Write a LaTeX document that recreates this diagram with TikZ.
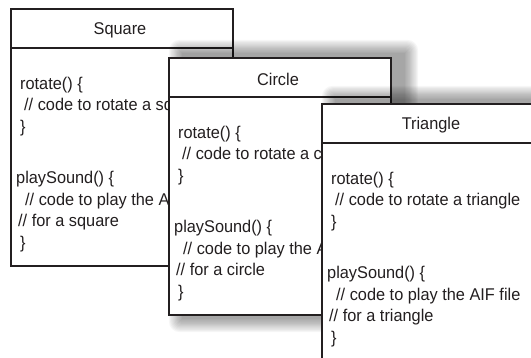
\documentclass[tikz,border=0pt]{standalone}
\usepackage{fontspec}
\setmainfont{Liberation Sans}[FakeStretch=0.96]
\definecolor{ink}{HTML}{231F20}
\begin{document}
\begin{tikzpicture}[x=1pt,y=-1pt,
    classbox/.style={draw=ink, line width=1.8pt, fill=white, minimum width=222pt,
      minimum height=257pt, anchor=north west, inner sep=0pt},
    classname/.style={text=ink, font=\fontsize{17}{21.5}\selectfont},
    classbody/.style={text=ink, font=\fontsize{17}{21.5}\selectfont, align=left,
      anchor=north west, inner sep=0pt},
    divider/.style={draw=ink, line width=1.4pt},
    softshadow/.style={fill=black, opacity=0.035}]
  \useasboundingbox (0,0) rectangle (531,357);
  \clip (0,0) rectangle (531,357);
  % Square
  \node[classbox] (square) at (10,8) {};
  \node[classname] (squarename) at (120,30) {Square};
  \draw[divider] ([yshift=-40pt]square.north west) -- ([yshift=-40pt]square.north east);
  \node[classbody] (squarebody) at (16,76.5) {%
    \hspace*{4pt}rotate() \{\\
    \hspace*{8pt}// code to rotate a square\\
    \hspace*{4pt}\}\\[30pt]
    playSound() \{\\
    \hspace*{9pt}// code to play the AIF file\\
    \hspace*{2pt}// for a square\\
    \hspace*{4pt}\}};
  % Circle
  \foreach \i in {0,...,11}
    \fill[softshadow, rounded corners=\i pt]
      (182-\i*1.2, 53-\i*1.2) rectangle (405+\i*1.2, 319+\i*1.2);
  \node[classbox] (circle) at (168,57) {};
  \node[classname] (circlename) at (278,79) {Circle};
  \draw[divider] ([yshift=-40pt]circle.north west) -- ([yshift=-40pt]circle.north east);
  \node[classbody] (circlebody) at (174,125.5) {%
    \hspace*{4pt}rotate() \{\\
    \hspace*{8pt}// code to rotate a circle\\
    \hspace*{4pt}\}\\[30pt]
    playSound() \{\\
    \hspace*{9pt}// code to play the AIF file\\
    \hspace*{2pt}// for a circle\\
    \hspace*{4pt}\}};
  % Triangle
  \foreach \i in {0,...,11}
    \fill[softshadow, rounded corners=\i pt]
      (335-\i*1.2, 99-\i*1.2) rectangle (558+\i*1.2, 365+\i*1.2);
  \node[classbox] (triangle) at (321,103) {};
  \node[classname] (trianglename) at (431,125) {Triangle};
  \draw[divider] ([yshift=-40pt]triangle.north west) -- ([yshift=-40pt]triangle.north east);
  \node[classbody] (trianglebody) at (327,171.5) {%
    \hspace*{4pt}rotate() \{\\
    \hspace*{8pt}// code to rotate a triangle\\
    \hspace*{4pt}\}\\[30pt]
    playSound() \{\\
    \hspace*{9pt}// code to play the AIF file\\
    \hspace*{2pt}// for a triangle\\
    \hspace*{4pt}\}};
\end{tikzpicture}
\end{document}
